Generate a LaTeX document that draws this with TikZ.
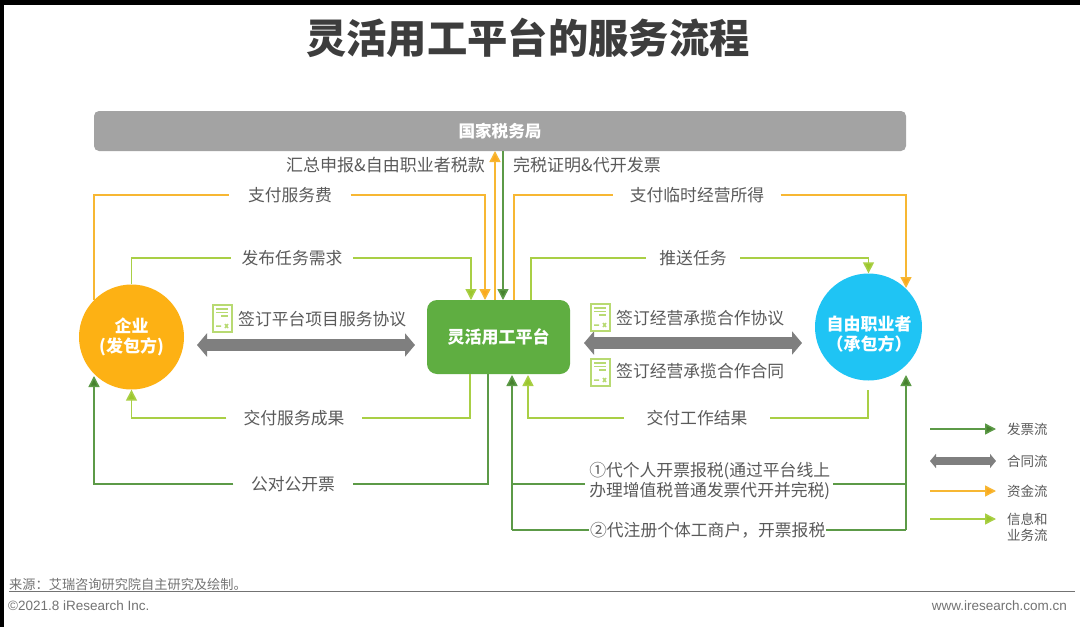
\documentclass[tikz,border=0pt]{standalone}
\usepackage{fontspec}
\setmainfont{Noto Sans CJK SC}
\newfontfamily\latinfont{Liberation Sans}
\usetikzlibrary{arrows.meta}
\definecolor{cOrange}{HTML}{F7B733}
\definecolor{cOrangeTip}{HTML}{FBA91E}
\definecolor{cLime}{HTML}{A9CF45}
\definecolor{cLimeTip}{HTML}{9CC72E}
\definecolor{cDark}{HTML}{5C9A47}
\definecolor{cDarkTip}{HTML}{47822F}
\definecolor{cGrey}{HTML}{7F7F7F}
\definecolor{cText}{HTML}{5A5A5A}
\definecolor{cDoc}{HTML}{B8DA72}
\definecolor{cEnt}{HTML}{FDB114}
\definecolor{cFre}{HTML}{1FC4F4}
\definecolor{cPlat}{HTML}{5FAE41}
\tikzset{
  lab/.style={text=cText,font=\fontsize{16.8}{20}\selectfont,inner sep=0pt,anchor=center},
  gaplab/.style={lab,minimum height=14pt},
  white bold/.style={text=white,font=\fontsize{17}{20}\selectfont\bfseries,align=center,inner sep=0pt},
  money/.style={draw=cOrange,line width=1.5pt,-{Triangle[length=11pt,width=11pt,fill=cOrangeTip]}},
  info/.style={draw=cLime,line width=1.5pt,-{Triangle[length=11pt,width=11pt,fill=cLimeTip]}},
  bill/.style={draw=cDark,line width=1.5pt,-{Triangle[length=11pt,width=11pt,fill=cDarkTip]}},
  moneyp/.style={draw=cOrange,line width=1.5pt},
  infop/.style={draw=cLime,line width=1.5pt},
  billp/.style={draw=cDark,line width=1.5pt},
  contract/.style={draw=cGrey,line width=12pt,{Triangle[length=10pt,width=23pt]}-{Triangle[length=10pt,width=23pt]}},
  contractsm/.style={draw=cGrey,line width=8pt,{Triangle[length=6pt,width=14pt]}-{Triangle[length=6pt,width=14pt]}},
  docbox/.style={draw=cDoc,fill=white,line width=2pt,minimum width=19pt,minimum height=27pt,inner sep=0pt},
  legendtxt/.style={text=cText,font=\fontsize{13.5}{16}\selectfont,inner sep=0pt,anchor=west,align=left},
}
\newcommand{\docicon}[3]{%
  \node[docbox] (#1) at (#2,#3) {};
  \draw[cDoc,line width=1.5pt] (#2-6,#3-9) -- (#2+6,#3-9) (#2-6,#3-5.5) -- (#2+6,#3-5.5) (#2-1,#3-2) -- (#2+6,#3-2);
  \draw[cDoc,line width=1.5pt] (#2-6,#3+8) -- (#2-1,#3+8) (#2+3,#3+6) -- (#2+6,#3+10) (#2+6,#3+6) -- (#2+3,#3+10);
}
\begin{document}
\begin{tikzpicture}[x=1pt,y=-1pt]
\useasboundingbox (0,0) rectangle (1080,627);
\fill[white] (0,0) rectangle (1080,627);
\fill[black] (0,0) rectangle (1080,5);
\fill[black] (0,0) rectangle (4,627);

\node[text=black!76,font=\fontsize{40.3}{46}\selectfont\bfseries,inner sep=0pt] (title) at (528,38) {灵活用工平台的服务流程};

\node[fill=black!36,rounded corners=5pt,minimum width=812pt,minimum height=40pt,inner sep=0pt,
  text=white,font=\fontsize{16.6}{20}\selectfont\bfseries] (tax) at (500,131) {国家税务局};

\node[circle,fill=cEnt,minimum size=105pt,inner sep=0pt] (ent) at (131.5,337) {};
\node[white bold] (entt) at (131.5,337) {企业\\(发包方)};
\node[circle,fill=cFre,minimum size=107pt,inner sep=0pt] (fre) at (868.5,327) {};
\node[white bold] (fret) at (869,334) {自由职业者\\（承包方）};
\node[fill=cPlat,rounded corners=10pt,minimum width=143pt,minimum height=74pt,inner sep=0pt,
  text=white,font=\fontsize{17}{20}\selectfont\bfseries] (plat) at (498.5,337) {灵活用工平台};

% top labels
\node[lab,anchor=east,font=\fontsize{17}{20}\selectfont] (l1) at (485,165) {汇总申报\&自由职业者税款};
\node[lab,anchor=west,font=\fontsize{17}{20}\selectfont] (l2) at (513,165) {完税证明\&代开发票};

% gap labels
\node[gaplab,minimum width=121pt] (a1) at (290,195) {支付服务费};
\node[gaplab,minimum width=122pt] (a2) at (292,258) {发布任务需求};
\node[gaplab,minimum width=167pt] (a3) at (697,195) {支付临时经营所得};
\node[gaplab,minimum width=94pt] (a4) at (693,258) {推送任务};
\node[gaplab,minimum width=135pt] (a5) at (294,418) {交付服务成果};
\node[gaplab,minimum width=119pt] (a6) at (293,484) {公对公开票};
\node[gaplab,minimum width=146pt] (a7) at (697,418) {交付工作结果};

% coordinates on the nodes
\coordinate (p1) at (471,300);
\coordinate (p2) at (485,300);
\coordinate (p3) at (495,300);
\coordinate (p4) at (503,300);
\coordinate (p5) at (514,300);
\coordinate (p6) at (531,300);
\coordinate (q1) at (470,374);
\coordinate (q2) at (488,374);
\coordinate (q3) at (512,375);
\coordinate (q4) at (528,375);
\coordinate (t1) at (495,151);
\coordinate (t2) at (503,151);
\coordinate (f1) at (906,288);
\coordinate (f2) at (906,375);
\coordinate (f3) at (868,390);
\coordinate (e1) at (94,376);

% tax arrows
\draw[money] (p3) -- (t1);
\draw[bill] (t2) -- (p4);

% upper connectors
\draw[moneyp] (ent.135) |- (a1.west);
\draw[money] (a1.east) -| (p2);
\draw[infop] (ent.north) |- (a2.west);
\draw[info] (a2.east) -| (p1);
\draw[moneyp] (p5) |- (a3.west);
\draw[money] (a3.east) -| (f1);
\draw[infop] (p6) |- (a4.west);
\draw[info] (a4.east) -| (fre.north);

% lower connectors
\draw[infop] (q1) |- (a5.east);
\draw[info] (a5.west) -| (ent.south);
\draw[billp] (q2) |- (a6.east);
\draw[bill] (a6.west) -| (e1);
\draw[infop] (f3) |- (a7.east);
\draw[info] (a7.west) -| (q4);

% invoice lines of the platform
\node[lab,align=left,anchor=west,minimum width=241pt] (b1) at (589,481) {①代个人开票报税(通过平台线上\\办理增值税普通发票代开并完税)};
\node[lab,anchor=west,minimum width=237pt] (b2) at (589,530) {②代注册个体工商户，开票报税};
\coordinate (j1) at (512,484);
\coordinate (j2) at (512,530);
\coordinate (j3) at (906,484);
\coordinate (j4) at (906,530);
\coordinate (b1w) at (585,484);
\coordinate (b1e) at (833,484);
\draw[billp] (b1w) -- (j1);
\draw[billp] (b2.west) -- (j2);
\draw[bill] (j2) -- (q3);
\draw[billp] (b1e) -- (j3);
\draw[billp] (b2.east) -- (j4);
\draw[bill] (j4) -- (f2);

% contracts
\coordinate (c1) at (197,345);
\coordinate (c2) at (415,345);
\coordinate (c3) at (584,343);
\coordinate (c4) at (802,343);
\draw[contract] (c1) -- (c2);
\draw[contract] (c3) -- (c4);
\docicon{d1}{222}{318}
\docicon{d2}{600}{317}
\docicon{d3}{600}{372}
\node[lab,anchor=west] (k1) at (238,319) {签订平台项目服务协议};
\node[lab,anchor=west] (k2) at (616,318) {签订经营承揽合作协议};
\node[lab,anchor=west] (k3) at (616,371) {签订经营承揽合作合同};

% legend
\coordinate (m1a) at (930,429); \coordinate (m1b) at (996,429);
\coordinate (m2a) at (930,461); \coordinate (m2b) at (996,461);
\coordinate (m3a) at (930,491); \coordinate (m3b) at (996,491);
\coordinate (m4a) at (930,519); \coordinate (m4b) at (996,519);
\draw[bill] (m1a) -- (m1b);
\draw[contractsm] (m2a) -- (m2b);
\draw[money] (m3a) -- (m3b);
\draw[info] (m4a) -- (m4b);
\node[legendtxt] (n1) at (1007,429) {发票流};
\node[legendtxt] (n2) at (1007,461) {合同流};
\node[legendtxt] (n3) at (1007,491) {资金流};
\node[legendtxt,font=\fontsize{13.5}{16}\selectfont] (n4) at (1007,527) {信息和\\业务流};

% footer
\node[text=black!55,font=\fontsize{13.2}{15}\selectfont,inner sep=0pt,anchor=west] (s1) at (9,584.5) {来源：艾瑞咨询研究院自主研究及绘制。};
\coordinate (r1) at (9,591.5); \coordinate (r2) at (1075,591.5);
\draw[black!55,line width=1pt] (r1) -- (r2);
\node[text=black!55,font=\latinfont\fontsize{13.5}{15}\selectfont,inner sep=0pt,anchor=west] (s2) at (8,606) {©2021.8 iResearch Inc.};
\node[text=black!55,font=\latinfont\fontsize{13.5}{15}\selectfont,inner sep=0pt,anchor=east] (s3) at (1067,606) {www.iresearch.com.cn};
\end{tikzpicture}
\end{document}
